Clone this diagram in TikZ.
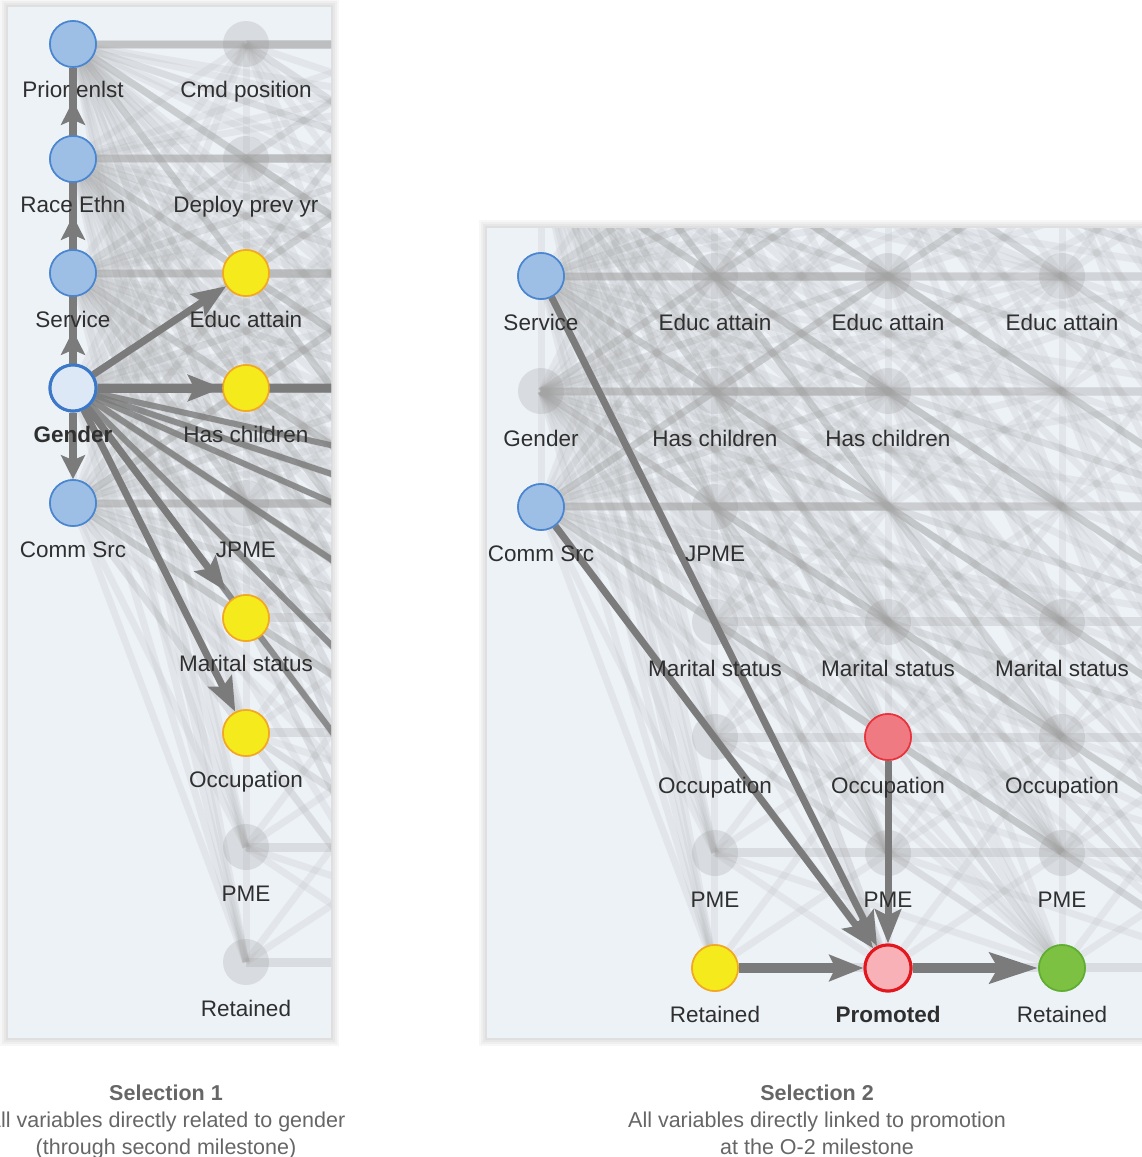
\documentclass[tikz,border=0pt]{standalone}
\usepackage{fontspec}
\setmainfont{Liberation Sans}
\usetikzlibrary{arrows.meta}
\definecolor{panelbg}{HTML}{EDF2F7}
\definecolor{bfill}{HTML}{9DBFE6}
\definecolor{bdraw}{HTML}{4A86D0}
\definecolor{gfill}{HTML}{DCE8F6}
\definecolor{gdraw}{HTML}{3C78C8}
\definecolor{yfill}{HTML}{F5EA1C}
\definecolor{ydraw}{HTML}{F2A823}
\definecolor{rfill}{HTML}{F07A82}
\definecolor{rdraw}{HTML}{E8323C}
\definecolor{pfill}{HTML}{F8B2B7}
\definecolor{pdraw}{HTML}{E3181E}
\definecolor{grfill}{HTML}{7DC143}
\definecolor{grdraw}{HTML}{5FAE32}
\definecolor{dkedge}{HTML}{7B7B7B}
\definecolor{ltedge}{HTML}{A8A8A8}
\definecolor{fadefill}{HTML}{9A9A9A}
\definecolor{labcol}{HTML}{2F2F2F}
\definecolor{capcol}{HTML}{666666}

\newcommand{\clutter}[4]{%
  \foreach \r in {0,...,4}{%
    \foreach \c in {1,2,3,4}{%
      \foreach \s in {0,...,8}{%
        \draw[lt] ({#1},{#3+#4*\r}) -- ({#1+#2*\c},{#3+#4*\s});
      }%
    }%
    \draw[lth] ({#1},{#3+#4*\r}) -- ({#1+#2*2},{#3+#4*\r});
    \ifnum\r<4 \draw[lt] ({#1},{#3+#4*\r}) -- ({#1},{#3+#4*(\r+1)});\fi
  }%
  \foreach \c in {1,...,4}{%
    \foreach \r in {0,...,8}{%
      \foreach \d in {-2,-1,1,2,3,4}{%
        \pgfmathtruncatemacro{\s}{\r+\d}%
        \ifnum\s<0 \else\ifnum\s>8 \else
          \draw[lt] ({#1+#2*\c},{#3+#4*\r}) -- ({#1+#2*(\c+1)},{#3+#4*\s});
        \fi\fi
      }%
      \foreach \d in {1,2,3}{%
        \pgfmathtruncatemacro{\s}{\r+\d}%
        \ifnum\s>8 \else
          \draw[lt] ({#1+#2*\c},{#3+#4*\r}) -- ({#1+#2*(\c+2)},{#3+#4*\s});
        \fi
      }%
      \draw[lth] ({#1+#2*\c},{#3+#4*\r}) -- ({#1+#2*(\c+1)},{#3+#4*\r});
      \ifnum\r<8 \draw[lt] ({#1+#2*\c},{#3+#4*\r}) -- ({#1+#2*\c},{#3+#4*(\r+1)});\fi
    }%
  }%
}

\begin{document}
\begin{tikzpicture}[x=1pt,y=-1pt,
  lt/.style={line width=7pt, draw=ltedge, draw opacity=0.15},
  lth/.style={line width=9pt, draw=ltedge, draw opacity=0.28},
  dk/.style={line width=8pt, draw=dkedge},
  arr/.style={-{Stealth[length=34pt,width=26pt,inset=6pt]}},
  sarr/.style={-{Stealth[length=24pt,width=24pt,inset=5pt]}},
  vn/.style={circle, minimum size=46pt, inner sep=0pt, line width=1.6pt},
  bn/.style={vn, fill=bfill, draw=bdraw},
  yn/.style={vn, fill=yfill, draw=ydraw},
  fn/.style={vn, fill=fadefill, fill opacity=0.25, draw=none},
  lab/.style={font=\fontsize{22.5}{26}\selectfont, text=labcol, inner sep=0pt, anchor=base},
  captxt/.style={font=\fontsize{21.5}{26}\selectfont, text=capcol, inner sep=0pt, anchor=base}
]
\useasboundingbox (0,0) rectangle (1142,1157);
\fill[white] (0,0) rectangle (1142,1157);

% ---------- panel shadows and backgrounds ----------
\foreach \k in {8,6,4,2}{
  \fill[black, opacity=0.03] (8-\k,7-\k) rectangle (331+\k,1038+\k);
  \fill[black, opacity=0.03] (487-\k,228-\k) rectangle (1142,1038+\k);
}
\fill[panelbg] (8,7) rectangle (331,1038);
\fill[panelbg] (487,228) rectangle (1142,1038);

% ================= LEFT PANEL =================
\begin{scope}
\clip (8,7) rectangle (331,1038);
\clutter{73}{173}{44}{114.75}

\node[fn] (L-cp) at (246,44) {};
\node[fn] (L-dp) at (246,159) {};
\node[fn] (L-jp) at (246,503) {};
\node[fn] (L-pm) at (246,847) {};
\node[fn] (L-rt) at (246,962) {};
\foreach \s in {0,...,8}{
  \coordinate (L-x3-\s) at (419,{44+114.75*\s});
  \coordinate (L-x4-\s) at (592,{44+114.75*\s});
}

% coloured nodes placed first as anchors for edges
\node[bn] (L-pe) at (73,44) {};
\node[bn] (L-re) at (73,159) {};
\node[bn] (L-sv) at (73,273) {};
\node[vn, fill=gfill, draw=gdraw, line width=3pt] (L-ge) at (73,388) {};
\node[bn] (L-cs) at (73,503) {};
\node[yn] (L-ea) at (246,273) {};
\node[yn] (L-hc) at (246,388) {};
\node[yn] (L-ms) at (246,618) {};
\node[yn] (L-oc) at (246,733) {};

% dark edges from Gender
\draw[dk] (L-ge) -- (L-pe);
\draw[dk, sarr, shorten >=33pt] (L-ge) -- (L-pe);
\draw[dk, sarr, shorten >=33pt] (L-ge) -- (L-re);
\draw[dk, sarr, shorten >=34pt] (L-ge) -- (L-sv);
\draw[dk, sarr] (L-ge) -- (L-cs);
\draw[dk, line width=7pt, arr] (L-ge) -- (L-ea);
\draw[dk, line width=9pt] (L-ge) -- (L-x3-3);
\draw[dk, line width=9pt, arr] (L-ge) -- (L-hc);
\draw[dk, line width=6pt, draw opacity=0.8] (L-ge) -- (L-x4-4);
\draw[dk, line width=6pt, draw opacity=0.8] (L-ge) -- (L-x3-4);
\draw[dk, line width=6pt, draw opacity=0.8] (L-ge) -- (L-x4-5);
\draw[dk, line width=6pt, draw opacity=0.8] (L-ge) -- (L-x3-5);
\draw[dk, line width=6pt, draw opacity=0.8] (L-ge) -- (L-x3-6);
\draw[dk, line width=6pt, draw opacity=0.8] (L-ge) -- (L-x3-7);
\draw[dk, line width=7pt, arr, shorten >=10pt] (L-ge) -- (L-ms);
\draw[dk, line width=7pt, arr] (L-ge) -- (L-oc);

% labels
\node[lab] (L-pe-l) at (73,97) {Prior enlst};
\node[lab] (L-re-l) at (73,212) {Race Ethn};
\node[lab] (L-sv-l) at (73,327) {Service};
\node[lab, font=\fontsize{22.5}{26}\selectfont\bfseries] (L-ge-l) at (73,442) {Gender};
\node[lab] (L-cs-l) at (73,557) {Comm Src};
\node[lab] (L-cp-l) at (246,97) {Cmd position};
\node[lab] (L-dp-l) at (246,212) {Deploy prev yr};
\node[lab] (L-ea-l) at (246,327) {Educ attain};
\node[lab] (L-hc-l) at (246,442) {Has children};
\node[lab] (L-jp-l) at (246,557) {JPME};
\node[lab] (L-ms-l) at (246,671) {Marital status};
\node[lab] (L-oc-l) at (246,787) {Occupation};
\node[lab] (L-pm-l) at (246,901) {PME};
\node[lab] (L-rt-l) at (246,1016) {Retained};

% redraw coloured nodes on top
\node[bn] at (L-pe) {};
\node[bn] at (L-re) {};
\node[bn] at (L-sv) {};
\node[vn, fill=gfill, draw=gdraw, line width=3pt] at (L-ge) {};
\node[bn] at (L-cs) {};
\node[yn] at (L-ea) {};
\node[yn] at (L-hc) {};
\node[yn] at (L-ms) {};
\node[yn] at (L-oc) {};
\end{scope}

% ================= RIGHT PANEL =================
\begin{scope}
\clip (487,228) rectangle (1142,1038);
\clutter{541}{173.7}{45.4}{115.3}

\node[fn] (R-ge) at (541,391) {};
\node[fn] (R-ea2) at (715,276) {};
\node[fn] (R-hc2) at (715,391) {};
\node[fn] (R-jp2) at (715,507) {};
\node[fn] (R-ms2) at (715,622) {};
\node[fn] (R-oc2) at (715,737) {};
\node[fn] (R-pm2) at (715,853) {};
\node[fn] (R-ea3) at (888,276) {};
\node[fn] (R-hc3) at (888,391) {};
\node[fn] (R-ms3) at (888,622) {};
\node[fn] (R-pm3) at (888,853) {};
\node[fn] (R-ea4) at (1062,276) {};
\node[fn] (R-ms4) at (1062,622) {};
\node[fn] (R-oc4) at (1062,737) {};
\node[fn] (R-pm4) at (1062,853) {};

\node[bn] (R-sv) at (541,276) {};
\node[bn] (R-cs) at (541,507) {};
\node[yn] (R-rt2) at (715,968) {};
\node[vn, fill=rfill, draw=rdraw] (R-oc3) at (888,737) {};
\node[vn, fill=pfill, draw=pdraw, line width=3pt] (R-pr) at (888,968) {};
\node[vn, fill=grfill, draw=grdraw] (R-rt4) at (1062,968) {};

% dark edges
\draw[dk, line width=7pt, arr] (R-sv) -- (R-pr);
\draw[dk, line width=7pt, arr] (R-cs) -- (R-pr);
\draw[dk, line width=7pt, arr] (R-oc3) -- (R-pr);
\draw[dk, line width=10pt, arr] (R-rt2) -- (R-pr);
\draw[dk, line width=10pt, -{Stealth[length=48pt,width=30pt,inset=8pt]}] (R-pr) -- (R-rt4);

% labels
\node[lab] (R-sv-l) at (541,330) {Service};
\node[lab] (R-ge-l) at (541,446) {Gender};
\node[lab] (R-cs-l) at (541,561) {Comm Src};
\node[lab] (R-ea2-l) at (715,330) {Educ attain};
\node[lab] (R-hc2-l) at (715,446) {Has children};
\node[lab] (R-jp2-l) at (715,561) {JPME};
\node[lab] (R-ms2-l) at (715,676) {Marital status};
\node[lab] (R-oc2-l) at (715,793) {Occupation};
\node[lab] (R-pm2-l) at (715,907) {PME};
\node[lab] (R-rt2-l) at (715,1022) {Retained};
\node[lab] (R-ea3-l) at (888,330) {Educ attain};
\node[lab] (R-hc3-l) at (888,446) {Has children};
\node[lab] (R-ms3-l) at (888,676) {Marital status};
\node[lab] (R-oc3-l) at (888,793) {Occupation};
\node[lab] (R-pm3-l) at (888,907) {PME};
\node[lab, font=\fontsize{22.5}{26}\selectfont\bfseries] (R-pr-l) at (888,1022) {Promoted};
\node[lab] (R-ea4-l) at (1062,330) {Educ attain};
\node[lab] (R-ms4-l) at (1062,676) {Marital status};
\node[lab] (R-oc4-l) at (1062,793) {Occupation};
\node[lab] (R-pm4-l) at (1062,907) {PME};
\node[lab] (R-rt4-l) at (1062,1022) {Retained};

\node[bn] at (R-sv) {};
\node[bn] at (R-cs) {};
\node[yn] at (R-rt2) {};
\node[vn, fill=rfill, draw=rdraw] at (R-oc3) {};
\node[vn, fill=pfill, draw=pdraw, line width=3pt] at (R-pr) {};
\node[vn, fill=grfill, draw=grdraw] at (R-rt4) {};
\end{scope}

% ================= CAPTIONS =================
\node[captxt, font=\fontsize{21.5}{26}\selectfont\bfseries] (c1a) at (166,1100) {Selection 1};
\node[captxt] (c1b) at (166,1127) {All variables directly related to gender};
\node[captxt] (c1c) at (166,1154) {(through second milestone)};
\node[captxt, font=\fontsize{21.5}{26}\selectfont\bfseries] (c2a) at (817,1100) {Selection 2};
\node[captxt] (c2b) at (817,1127) {All variables directly linked to promotion};
\node[captxt] (c2c) at (817,1154) {at the O-2 milestone};
\end{tikzpicture}
\end{document}
